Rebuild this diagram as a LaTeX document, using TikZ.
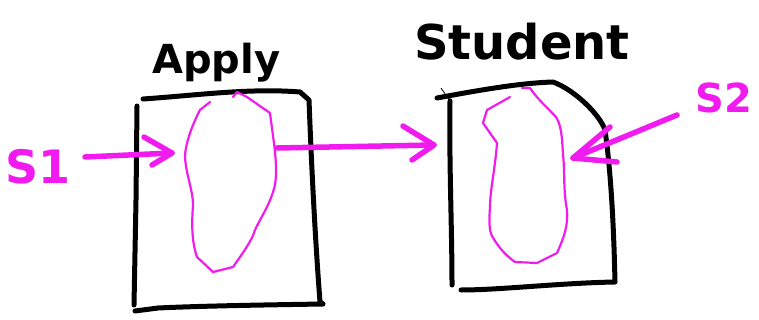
\documentclass[tikz,border=0pt]{standalone}
\usepackage{fontspec}
\setmainfont{DejaVu Sans}
\definecolor{ink}{HTML}{F21BEF}
\tikzset{
  boxline/.style={line width=5pt, line cap=round, line join=round, black},
  blob/.style={line width=2.2pt, ink, line cap=round, line join=round},
  parrow/.style={line width=5.5pt, ink, line cap=round, line join=round},
  title/.style={font=\bfseries, inner sep=0pt},
  plabel/.style={font=\bfseries, text=ink, inner sep=0pt},
}
\begin{document}
\begin{tikzpicture}[x=1pt,y=-1pt]
\useasboundingbox (0,0) rectangle (759,320);
% Apply box
\draw[boxline] (137,106) -- (136,200) -- (134,305)
  (143,99) .. controls (200,95) and (250,88) .. (300,92) -- (309,100)
  (309,100) .. controls (312,180) and (316,250) .. (320,302) -- (323,304)
  (323,304) .. controls (260,305) and (200,306) .. (158,308) -- (135,311);
\node[title,font=\fontsize{40}{42}\selectfont\bfseries,anchor=base west] (apply) at (152,74) {Apply};
% Student box
\draw[boxline] (450,101) .. controls (449,160) and (452,230) .. (452,285)
  (437,98) .. controls (480,90) and (520,83) .. (553,82)
  .. controls (575,90) and (600,115) .. (605,130)
  .. controls (612,180) and (614,240) .. (615,282)
  .. controls (560,283) and (500,290) .. (461,290);
\draw[line width=0.8pt] (441,88) -- (450,101);
\node[title,font=\fontsize{48}{50}\selectfont\bfseries,anchor=base west] (student) at (414,60) {Student};
% blobs
\draw[blob] (210,102) -- (200,110) .. controls (192,125) and (185,145) .. (185,157)
  .. controls (186,175) and (193,190) .. (193,205)
  .. controls (192,220) and (191,240) .. (197,257)
  -- (213,272) -- (233,267)
  .. controls (245,250) and (252,240) .. (255,230)
  .. controls (262,215) and (270,205) .. (275,185)
  .. controls (278,165) and (274,145) .. (270,113)
  -- (247,97) -- (237,92) -- (233,97);
\coordinate (b1r) at (277,148);
\draw[blob] (510,97) -- (487,110) -- (483,123) -- (497,143)
  .. controls (495,170) and (490,190) .. (490,207)
  .. controls (489,220) and (489,230) .. (492,236)
  .. controls (500,250) and (508,257) .. (515,262)
  -- (537,263) -- (557,253)
  .. controls (565,235) and (568,225) .. (567,210)
  .. controls (563,190) and (565,170) .. (563,155)
  .. controls (562,135) and (561,125) .. (556,117)
  .. controls (548,108) and (538,100) .. (530,88) -- (522,88);
\coordinate (b2r) at (573,158);
% labels
\node[plabel,font=\fontsize{46}{48}\selectfont\bfseries] (s1) at (38,167) {S1};
\node[plabel,font=\fontsize{40}{42}\selectfont\bfseries] (s2) at (724,98) {S2};
% arrows
\coordinate (a1s) at (85,157);
\coordinate (a1e) at (172,153);
\draw[parrow] (a1s) -- (a1e);
\draw[parrow] (144,137) -- (a1e) -- (152,165);
\coordinate (a2e) at (434,145);
\draw[parrow] (b1r) -- (a2e);
\draw[parrow] (403,126) -- (a2e) -- (412,160);
\coordinate (a3s) at (677,115);
\draw[parrow] (a3s) -- (b2r);
\draw[parrow] (610,127) -- (b2r) -- (617,162);
\end{tikzpicture}
\end{document}
